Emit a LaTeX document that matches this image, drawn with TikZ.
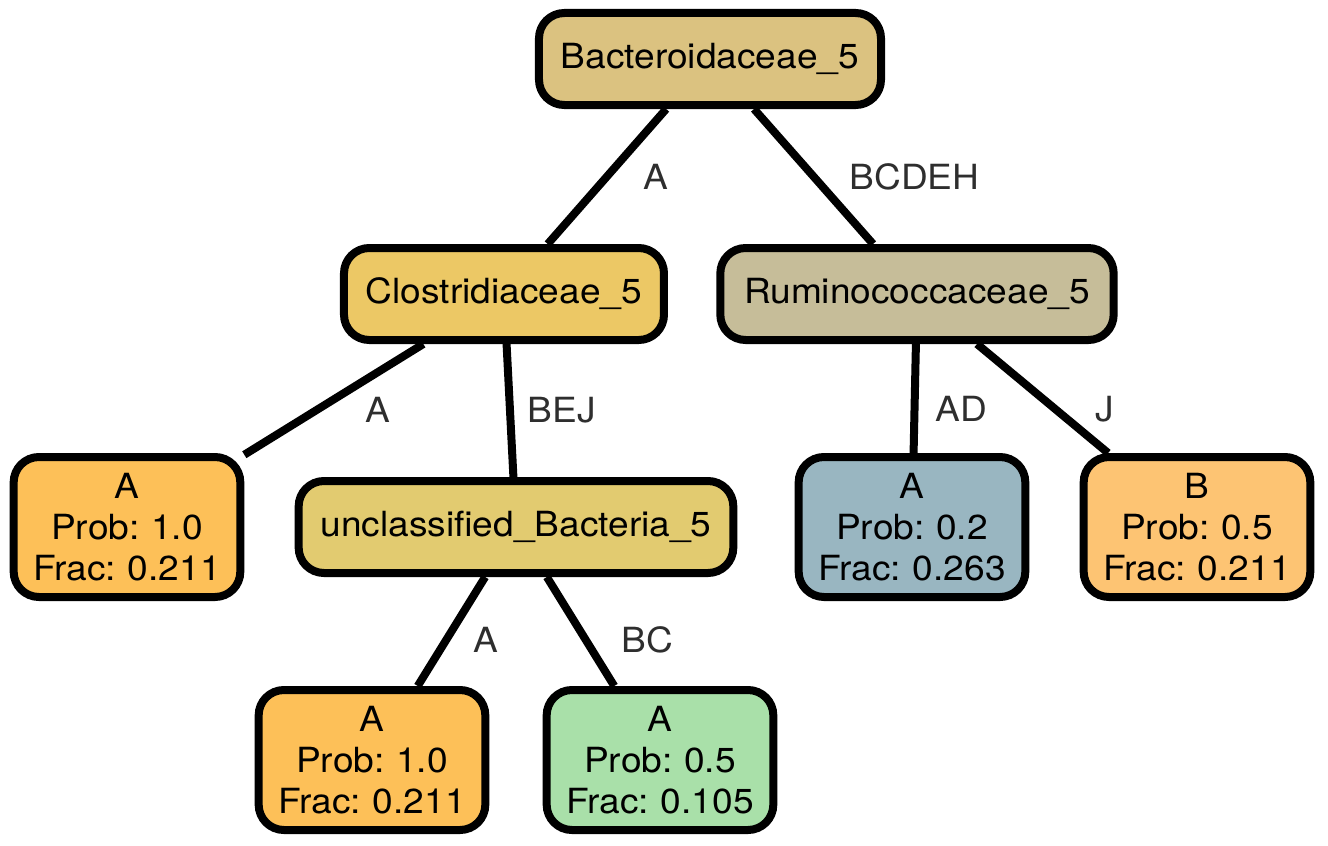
\documentclass[tikz,border=0pt]{standalone}
\usepackage{fontspec}
\setmainfont[FakeStretch=1.07, WordSpace=0.8]{TeX Gyre Heros}
\usepackage{tikz}
\usetikzlibrary{positioning}

\definecolor{bactfill}{HTML}{DBC280}
\definecolor{clostfill}{HTML}{ECC865}
\definecolor{ruminofill}{HTML}{C6BD99}
\definecolor{uncfill}{HTML}{E2CB70}
\definecolor{orangefill}{HTML}{FDC058}
\definecolor{peachfill}{HTML}{FDC473}
\definecolor{bluefill}{HTML}{99B6C1}
\definecolor{greenfill}{HTML}{A9E0A9}
\definecolor{labelgray}{HTML}{2E2E2E}

\tikzset{
  taxon/.style={draw, line width=6pt, rounded corners=19pt, minimum height=69pt,
    inner sep=0pt, align=center, font=\fontsize{26}{30.75}\selectfont},
  leaf/.style={taxon, minimum width=170pt, minimum height=105pt},
  branch/.style={line width=6pt},
  elabel/.style={anchor=west, inner sep=0pt, text=labelgray,
    font=\fontsize{26}{30.75}\selectfont}
}

\begin{document}
\begin{tikzpicture}[node distance=174.75pt, on grid]
  \useasboundingbox (-532.5pt,44.25pt) rectangle (463.5pt,-590.25pt);

  \node[taxon, fill=bactfill, minimum width=256.5pt] (r0) at (0,0) {Bacteroidaceae\_5};

  \node[taxon, fill=clostfill, minimum width=240pt, below left=176.25pt and 154.5pt of r0] (m1) {Clostridiaceae\_5};
  \node[taxon, fill=ruminofill, minimum width=295pt, below right=176.25pt and 155.25pt of r0] (m2) {Ruminococcaceae\_5};

  \node[leaf, fill=orangefill, below left=174.75pt and 282.75pt of m1] (f1) {A\\Prob: 1.0\\Frac: 0.211};
  \node[taxon, fill=uncfill, minimum width=326pt, below right=174.75pt and 9pt of m1] (u1) {unclassified\_Bacteria\_5};
  \node[leaf, fill=bluefill, below left=174.75pt and 3.75pt of m2] (f2) {A\\Prob: 0.2\\Frac: 0.263};
  \node[leaf, fill=peachfill, below right=174.75pt and 210pt of m2] (f3) {B\\Prob: 0.5\\Frac: 0.211};

  \node[leaf, fill=orangefill, below left=174.75pt and 108pt of u1] (f4) {A\\Prob: 1.0\\Frac: 0.211};
  \node[leaf, fill=greenfill, below right=174.75pt and 108pt of u1] (f5) {A\\Prob: 0.5\\Frac: 0.105};

  \draw[branch] (r0) -- node[elabel, xshift=24.75pt] {A} (m1);
  \draw[branch] (r0) -- node[elabel, xshift=24pt] {BCDEH} (m2);
  \draw[branch] (m1) -- node[elabel, xshift=21pt, yshift=-7.5pt] {A} (f1);
  \draw[branch] (m1) -- node[elabel, xshift=10.5pt] {BEJ} (u1);
  \draw[branch] (m2) -- node[elabel, xshift=12.4pt, yshift=-8pt] {AD} (f2);
  \draw[branch] (m2) -- node[elabel, xshift=36.4pt, yshift=-8pt] {J} (f3);
  \draw[branch] (u1) -- node[elabel, xshift=13.9pt, yshift=-6pt] {A} (f4);
  \draw[branch] (u1) -- node[elabel, xshift=28pt, yshift=-6pt] {BC} (f5);
\end{tikzpicture}
\end{document}
